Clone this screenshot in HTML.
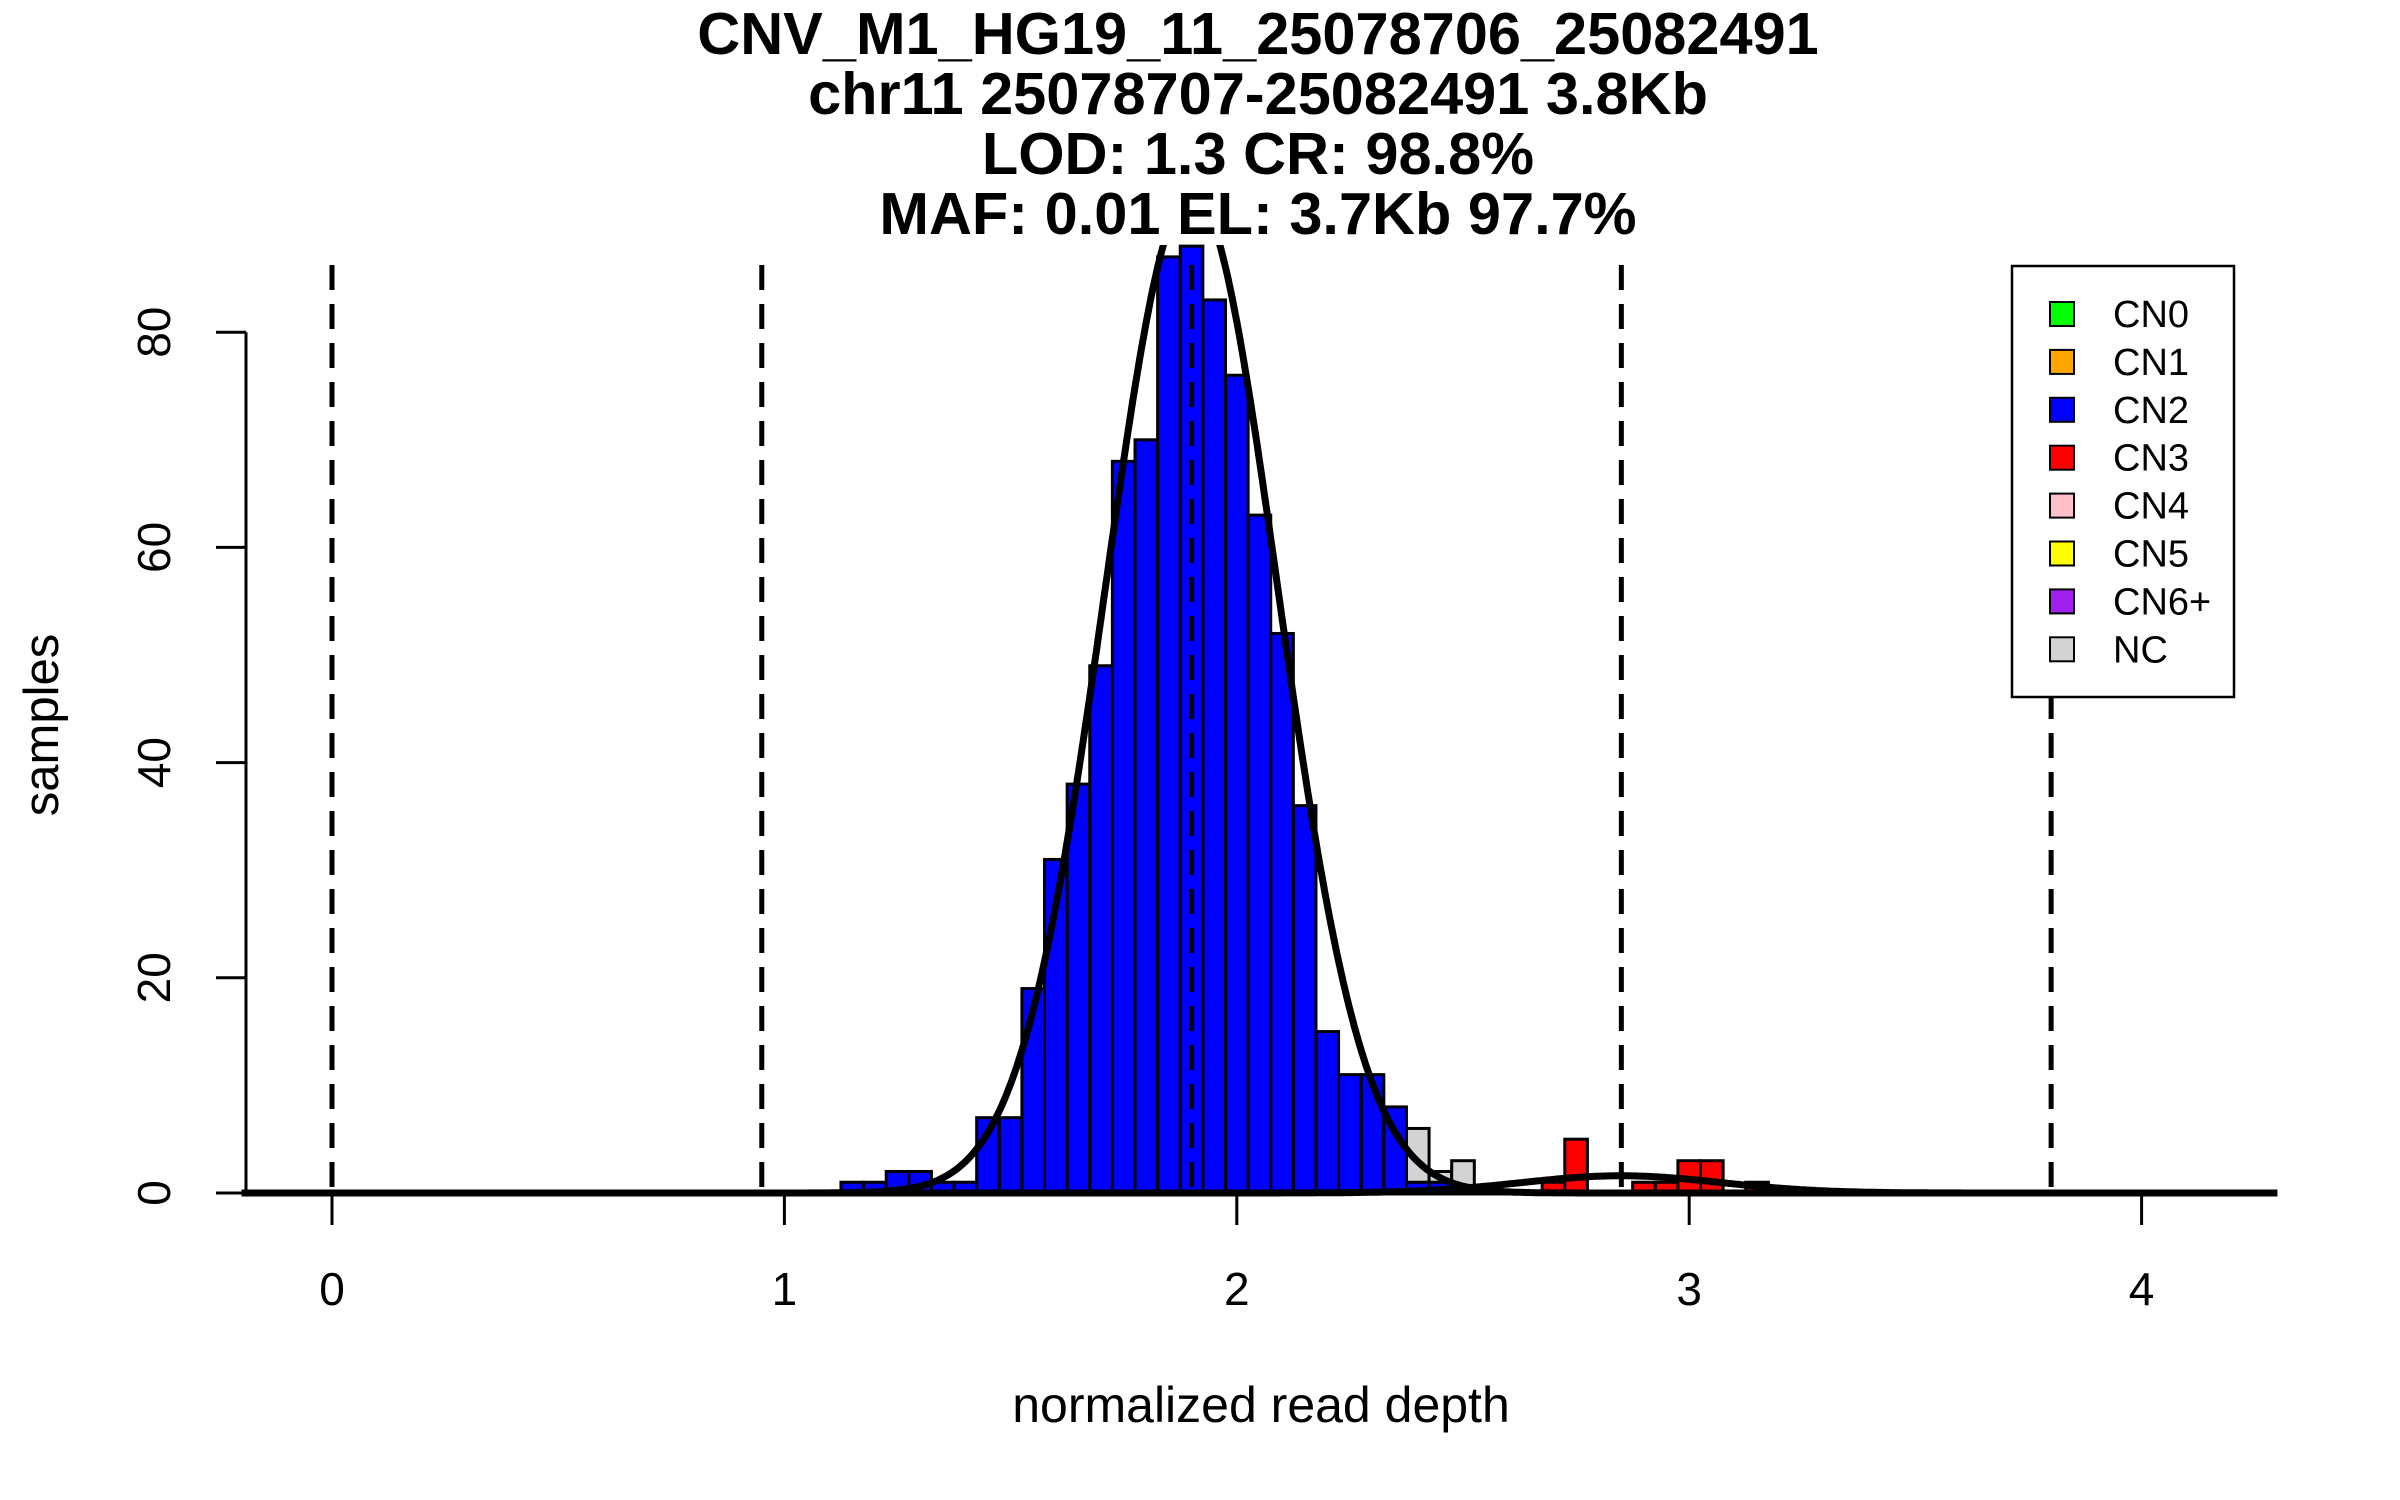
<!DOCTYPE html>
<html><head><meta charset="utf-8"><style>
body{margin:0;background:#fff}
svg{display:block}
text{font-family:"Liberation Sans",sans-serif}
</style></head><body>
<svg id="chart" width="2400" height="1500" viewBox="0 0 2400 1500" xmlns="http://www.w3.org/2000/svg">
<g font-weight="bold" font-size="59.5" text-anchor="middle" fill="#000">
<text x="1258" y="54">CNV_M1_HG19_11_25078706_25082491</text>
<text x="1258" y="114">chr11 25078707-25082491 3.8Kb</text>
<text x="1258" y="174">LOD: 1.3 CR: 98.8%</text>
<text x="1258" y="234">MAF: 0.01 EL: 3.7Kb 97.7%</text>
</g>
<g id="bars"></g>
<g id="curves"></g>
<g id="vlines"></g>
<g id="axes"></g>
<text x="1261" y="1422" font-size="50" text-anchor="middle">normalized read depth</text>
<text transform="translate(58,725) rotate(-90)" font-size="49" text-anchor="middle">samples</text>
<g>
<rect x="2012" y="266" width="222" height="431" fill="#fff" stroke="#000" stroke-width="2.5"/>
<g id="legend-items"></g>
</g>
</svg>
<script>
const binStart = 1.125;
const binWidth = 0.05;
const blueCounts = [1,1,2,2,1,1,7,7,19,31,38,49,68,70,87,88,83,76,63,52,36,15,11,11,8,1,1];
const greyCounts = [0,0,0,0,0,0,0,0,0,0,0,0,0,0,0,0,0,0,0,0,0,0,0,0,0,6,2,3];
const redCounts  = [0,0,0,0,0,0,0,0,0,0,0,0,0,0,0,0,0,0,0,0,0,0,0,0,0,0,0,0,0,0,0,1,5,0,0,1,1,3,3,0,1];
const curveMeans = [1.9, 2.85];
const curveSds = [0.19, 0.22];
const curveHeights = [93, 1.6];
const thresholds = [0, 0.95, 1.9, 2.85, 3.8];
const xTicks = [0,1,2,3,4];
const yTicks = [0,20,40,60,80];
const legendLabels = ["CN0","CN1","CN2","CN3","CN4","CN5","CN6+","NC"];
const legendColors = ["#00ff00","#ffa500","#0000ff","#ff0000","#ffc0cb","#ffff00","#a020f0","#d3d3d3"];

const NS = "http://www.w3.org/2000/svg";
function xs(v){return 332 + v*452.4;}
function ys(c){return 1193 - c*10.76;}
function mk(tag, attrs, parent){const e=document.createElementNS(NS,tag);for(const k in attrs)e.setAttribute(k,attrs[k]);parent.appendChild(e);return e;}

const bars=document.getElementById('bars');
function drawSeries(counts, color, name){
  counts.forEach((c,i)=>{
    if(!c) return;
    const x0=xs(binStart+i*binWidth), x1=xs(binStart+(i+1)*binWidth);
    const r=mk('rect',{x:x0,y:ys(c),width:x1-x0,height:ys(0)-ys(c),fill:color,stroke:'#000','stroke-width':3},bars);
    
    
  });
}
drawSeries(greyCounts,'#d3d3d3','nc');
drawSeries(blueCounts,'#0000ff','cn2');
drawSeries(redCounts,'#ff0000','cn3');

const bl=mk('line',{x1:245,y1:ys(0),x2:2274,y2:ys(0),stroke:'#000','stroke-width':5},bars);



const curves=document.getElementById('curves');
curveMeans.forEach((m,k)=>{
  let d='';
  for(let v=-0.2; v<=4.3; v+=0.005){
    const c=curveHeights[k]*Math.exp(-0.5*Math.pow((v-m)/curveSds[k],2));
    d+=(d?'L':'M')+xs(v).toFixed(1)+','+ys(c).toFixed(1);
  }
  const p=mk('path',{d:d,fill:'none',stroke:'#000','stroke-width':7},curves);
  
  
});
const clip=mk('clipPath',{id:'plotclip'},document.getElementById('chart'));
mk('rect',{x:0,y:245,width:2400,height:1005},clip);
curves.setAttribute('clip-path','url(#plotclip)');

const vl=document.getElementById('vlines');
thresholds.forEach(t=>{
  const l=mk('line',{x1:xs(t),y1:265,x2:xs(t),y2:ys(0),stroke:'#000','stroke-width':5,'stroke-dasharray':'25 14'},vl);
  
  
});

const ax=document.getElementById('axes');
const ya=mk('line',{x1:246,y1:ys(0),x2:246,y2:ys(80),stroke:'#000','stroke-width':3},ax);


yTicks.forEach(t=>{
  const l=mk('line',{x1:246,y1:ys(t),x2:216,y2:ys(t),stroke:'#000','stroke-width':3},ax);
  
  
  const tx=mk('text',{transform:'translate(170,'+ys(t)+') rotate(-90)','font-size':46,'text-anchor':'middle'},ax);
  tx.textContent=t;
  
  
});
xTicks.forEach(t=>{
  const l=mk('line',{x1:xs(t),y1:ys(0),x2:xs(t),y2:ys(0)+32,stroke:'#000','stroke-width':3},ax);
  
  
  const tx=mk('text',{x:xs(t),y:1305,'font-size':46,'text-anchor':'middle'},ax);
  tx.textContent=t;
  
  
});

const lg=document.getElementById('legend-items');
legendLabels.forEach((lab,i)=>{
  const y=314+i*47.9;
  const r=mk('rect',{x:2050,y:y-12,width:24,height:24,fill:legendColors[i],stroke:'#000','stroke-width':2},lg);
  
  
  const t=mk('text',{x:2113,y:y+13,'font-size':38},lg);
  t.textContent=lab;
  
  
});
</script>
</body></html>
